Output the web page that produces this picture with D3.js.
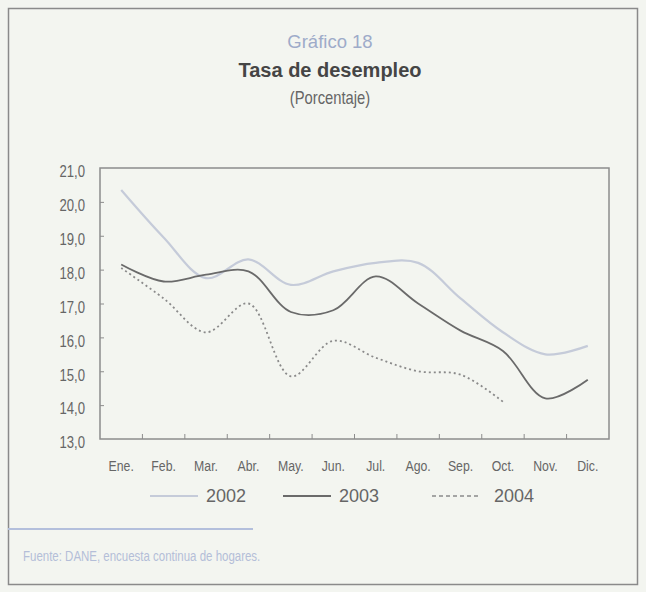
<!DOCTYPE html>
<html>
<head>
<meta charset="utf-8">
<script src="https://cdn.jsdelivr.net/npm/d3@7/dist/d3.min.js"></script>
<style>
  body { margin: 0; background: #f3f5f0; }
  svg { display: block; }
</style>
</head>
<body>
<div id="chart"></div>
<script>
// data
var months = ['Ene.', 'Feb.', 'Mar.', 'Abr.', 'May.', 'Jun.', 'Jul.', 'Ago.', 'Sep.', 'Oct.', 'Nov.', 'Dic.'];
var y2002 = [20.35, 18.95, 17.75, 18.3, 17.55, 17.95, 18.2, 18.2, 17.15, 16.15, 15.5, 15.75];
var y2003 = [18.15, 17.65, 17.85, 17.95, 16.75, 16.8, 17.8, 17.0, 16.2, 15.6, 14.2, 14.75];
var y2004 = [18.05, 17.15, 16.15, 17.0, 14.85, 15.9, 15.4, 15.0, 14.9, 14.1];
var yTicks = [13, 14, 15, 16, 17, 18, 19, 20, 21];
var seriesNames = ['2002', '2003', '2004'];

// size
var W = 646, H = 592;
var margin_plot = {top: 168, right: 37, bottom: 153, left: 100},
    width_plot = W - margin_plot.left - margin_plot.right,
    height_plot = H - margin_plot.top - margin_plot.bottom;

var sans = '"Liberation Sans", Arial, sans-serif',
    squeeze = 0.82;   // fake a narrow face

// squeeze text horizontally, keeping its anchor where it was
function narrow(sel) {
  sel.style('font-family', sans)
    .attr('x', function() { return (+this.getAttribute('x') || 0) / squeeze; })
    .attr('transform', 'scale(' + squeeze + ',1)');
}

// scales
var x = d3.scaleBand().domain(months).range([0, width_plot]),
    y = d3.scaleLinear().domain([13, 21]).range([height_plot, 0]);

var fmt = function(d) { return d3.format('.1f')(d).replace('.', ','); };

var svg = d3.select('#chart').append('svg')
    .attr('width', W)
    .attr('height', H);

svg.append('rect')
    .attr('x', 0).attr('y', 0).attr('width', W).attr('height', H)
    .attr('fill', '#f3f5f0');

// outer frame
svg.append('rect')
    .attr('x', 8.5).attr('y', 8.5).attr('width', W - 17).attr('height', H - 16)
    .attr('fill', 'none').attr('stroke', '#8a8a8a').attr('stroke-width', 1.5);

// titles
svg.append('text')
    .attr('x', 330).attr('y', 48)
    .attr('text-anchor', 'middle')
    .style('font-family', sans).style('font-size', '18.5px')
    .attr('fill', '#9eabc9')
    .text('Gráfico  18');
svg.append('text')
    .attr('x', 330).attr('y', 77)
    .attr('text-anchor', 'middle')
    .style('font-family', sans).style('font-size', '20px').style('font-weight', 'bold')
    .attr('fill', '#454545')
    .text('Tasa de desempleo');
svg.append('text')
    .attr('x', 330).attr('y', 104)
    .attr('text-anchor', 'middle')
    .style('font-size', '18px')
    .attr('fill', '#666')
    .text('(Porcentaje)')
    .call(narrow);

var g = svg.append('g')
    .attr('transform', 'translate(' + margin_plot.left + ',' + margin_plot.top + ')');

// plot frame
g.append('rect')
    .attr('x', 0).attr('y', 0).attr('width', width_plot).attr('height', height_plot)
    .attr('fill', 'none').attr('stroke', '#8c8c8c').attr('stroke-width', 1.5);

// y axis
var y_axis = d3.axisLeft(y).tickValues(yTicks).tickSize(-4).tickPadding(15).tickFormat(fmt);
var gy = g.append('g').call(y_axis);
gy.select('.domain').remove();
gy.selectAll('.tick line')
    .attr('stroke', '#8c8c8c')
    .attr('stroke-opacity', function(d) { return (d === 13 || d === 21) ? 0 : 1; });
gy.selectAll('.tick text')
    .attr('dy', '0.55em')
    .attr('fill', '#666')
    .style('font-size', '16px')
    .call(narrow);

// x axis: labels centred on months, ticks on month boundaries
var x_axis = d3.axisBottom(x).tickSize(0).tickPadding(21);
var gx = g.append('g').attr('transform', 'translate(0,' + height_plot + ')').call(x_axis);
gx.select('.domain').remove();
gx.selectAll('.tick text')
    .attr('fill', '#666')
    .style('font-size', '15px')
    .call(narrow);
g.append('g').selectAll('line')
    .data(months.slice(1))
    .enter().append('line')
    .attr('x1', function(d) { return x(d); })
    .attr('x2', function(d) { return x(d); })
    .attr('y1', height_plot)
    .attr('y2', height_plot - 5)
    .attr('stroke', '#8c8c8c');

// lines
var line = d3.line()
    .x(function(d, i) { return x(months[i]) + x.bandwidth() / 2; })
    .y(function(d) { return y(d); })
    .curve(d3.curveCatmullRom.alpha(0.5));

var styles = [
  {data: y2002, color: '#c5cbd9', width: 2.2, dash: null},
  {data: y2003, color: '#6a6a6a', width: 1.8, dash: null},
  {data: y2004, color: '#8a8a8a', width: 1.8, dash: '2,3'}
];

styles.forEach(function(s) {
  g.append('path')
      .datum(s.data)
      .attr('d', line)
      .attr('fill', 'none')
      .attr('stroke', s.color)
      .attr('stroke-width', s.width)
      .attr('stroke-dasharray', s.dash);
});

// legend
var legendX = [150, 283, 432];
var legend = svg.append('g').selectAll('g')
    .data(seriesNames)
    .enter().append('g')
    .attr('transform', function(d, i) { return 'translate(' + legendX[i] + ',496)'; });
legend.append('line')
    .attr('x1', 0).attr('x2', 48).attr('y1', 0).attr('y2', 0)
    .attr('stroke', function(d, i) { return styles[i].color; })
    .attr('stroke-width', function(d, i) { return i === 2 ? 1.4 : styles[i].width; })
    .attr('stroke-dasharray', function(d, i) { return i === 2 ? '4,3' : null; });
legend.append('text')
    .attr('x', function(d, i) { return i === 2 ? 62 : 56; })
    .attr('dy', '0.35em')
    .attr('fill', '#666')
    .style('font-family', sans).style('font-size', '18px')
    .text(function(d) { return d; });

// source
svg.append('line')
    .attr('x1', 8).attr('x2', 253).attr('y1', 529).attr('y2', 529)
    .attr('stroke', '#b3bfdc').attr('stroke-width', 2);
svg.append('text')
    .attr('x', 23).attr('y', 556).attr('dy', '0.35em')
    .attr('fill', '#b4bed8')
    .style('font-size', '14px')
    .text('Fuente: DANE, encuesta continua de hogares.')
    .call(narrow);
</script>
</body>
</html>
